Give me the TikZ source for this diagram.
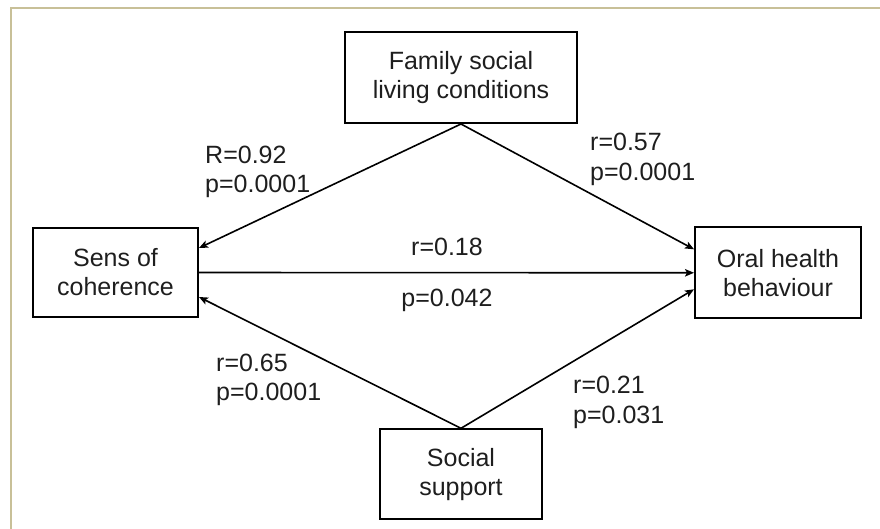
\documentclass[tikz,border=0pt]{standalone}
\usepackage{fontspec}
\setmainfont{Liberation Sans}
\usetikzlibrary{arrows.meta,calc}
\definecolor{framecol}{RGB}{200,192,152}
\definecolor{txt}{RGB}{30,30,30}
\tikzset{
  box/.style={draw=black, line width=2pt, inner sep=0pt, align=center,
    font=\fontsize{25}{29}\selectfont, text=txt},
  conn/.style={line width=1.6pt, -{Stealth[length=9pt,width=7.5pt,inset=2pt]}},
  lab/.style={anchor=base west, inner sep=0pt, font=\fontsize{25}{29}\selectfont, text=txt},
  labc/.style={anchor=base, inner sep=0pt, font=\fontsize{25}{29}\selectfont, text=txt}
}
\begin{document}
\begin{tikzpicture}[x=1pt,y=-1pt]
\useasboundingbox (0,0) rectangle (880,529);
\draw[framecol, line width=2pt] (11,529) -- (11,8) -- (880,8);

\node[box, minimum width=232pt, minimum height=91pt] (family) at (461,77.5) {Family social\\living conditions};
\node[box, minimum width=165pt, minimum height=89pt] (sens) at (115.5,272.5) {Sens of\\coherence};
\node[box, minimum width=166pt, minimum height=91pt] (oral) at (778,272.8) {Oral health\\behaviour};
\node[box, minimum width=162pt, minimum height=90pt] (social) at (461,474.3) {Social\\support};

\draw[conn] (family.south) -- ([yshift=24.5pt]sens.east);
\draw[conn] (family.south) -- ([yshift=23.5pt]oral.west);
\draw[conn] (sens.east) -- (oral.west);
\draw[conn] (social.north) -- ([yshift=-24.5pt]sens.east);
\draw[conn] (social.north) -- ([yshift=-16.5pt]oral.west);

\node[lab] (l1a) at (205,164) {R=0.92};
\node[lab] (l1b) at (205,193) {p=0.0001};
\node[lab] (l2a) at (590,151) {r=0.57};
\node[lab] (l2b) at (590,181) {p=0.0001};
\node[labc] (l3a) at (447,255) {r=0.18};
\node[labc] (l3b) at (447,306) {p=0.042};
\node[lab] (l4a) at (216,371) {r=0.65};
\node[lab] (l4b) at (216,400) {p=0.0001};
\node[lab] (l5a) at (573,393) {r=0.21};
\node[lab] (l5b) at (573,423) {p=0.031};
\end{tikzpicture}
\end{document}
